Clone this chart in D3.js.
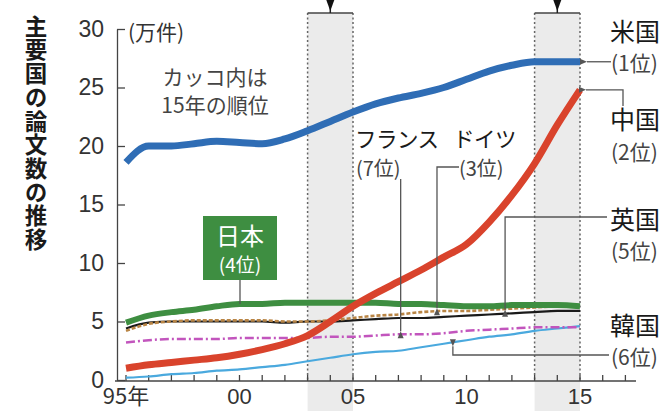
<!DOCTYPE html>
<html>
<head>
<meta charset="utf-8">
<script src="https://cdn.jsdelivr.net/npm/d3@7/dist/d3.min.js"></script>
<style>
  html, body { margin: 0; padding: 0; background: #fff; }
  svg { display: block; }
</style>
</head>
<body>
<div id="chart"></div>
<script>
// data (unit: 10,000 papers)
var years = d3.range(1995, 2016);
var usa     = [18.6, 20.0, 20.0, 20.2, 20.4, 20.3, 20.2, 20.6, 21.3, 22.1, 22.9, 23.6, 24.1, 24.5, 25.0, 25.7, 26.4, 26.9, 27.2, 27.2, 27.2];
var china   = [1.0, 1.3, 1.5, 1.7, 1.9, 2.2, 2.6, 3.1, 3.8, 5.0, 6.3, 7.4, 8.4, 9.4, 10.5, 11.6, 13.5, 15.8, 18.5, 21.8, 24.8];
var japan   = [4.9, 5.5, 5.8, 6.0, 6.3, 6.5, 6.5, 6.6, 6.6, 6.6, 6.6, 6.6, 6.5, 6.5, 6.4, 6.3, 6.3, 6.4, 6.4, 6.4, 6.3];
var germany = [4.2, 4.8, 5.0, 5.1, 5.1, 5.1, 5.1, 5.0, 5.0, 5.1, 5.3, 5.5, 5.6, 5.8, 5.9, 5.9, 6.0, 6.1, 6.2, 6.3, 6.4];
var uk      = [4.4, 4.9, 5.0, 5.0, 5.0, 5.0, 5.0, 4.9, 5.0, 5.0, 5.1, 5.2, 5.3, 5.3, 5.4, 5.5, 5.6, 5.7, 5.8, 5.9, 5.9];
var france  = [3.2, 3.4, 3.5, 3.5, 3.5, 3.6, 3.6, 3.6, 3.6, 3.7, 3.7, 3.8, 3.9, 3.9, 4.0, 4.2, 4.3, 4.4, 4.5, 4.5, 4.5];
var korea   = [0.2, 0.3, 0.5, 0.6, 0.8, 0.9, 1.1, 1.3, 1.6, 1.9, 2.2, 2.4, 2.5, 2.8, 3.1, 3.4, 3.7, 3.9, 4.2, 4.4, 4.6];

var yTicks = [0, 5, 10, 15, 20, 25, 30];
var xTickYears = d3.range(1995, 2018);
var xLabels = [[1995, "95年"], [2000, "00"], [2005, "05"], [2010, "10"], [2015, "15"]];
var bands = [[2003, 2005], [2013, 2015]];

var W = 671, H = 411;
var numFont = "'Liberation Sans', Arial, sans-serif";
var jpFont = "'Noto Sans CJK JP', 'Noto Sans', sans-serif";

var x = d3.scaleLinear().domain([1995, 2015]).range([126, 580]);
var y = d3.scaleLinear().domain([0, 30]).range([380, 29]);

function valueAt(arr, yr) {
  var i = Math.min(Math.floor(yr - 1995), arr.length - 2);
  var t = yr - 1995 - i;
  return arr[i] * (1 - t) + arr[i + 1] * t;
}

var svg = d3.select("#chart").append("svg")
  .attr("width", W)
  .attr("height", H)
  .attr("viewBox", "0 0 " + W + " " + H);

var defs = svg.append("defs");
defs.append("marker")
  .attr("id", "tip")
  .attr("markerWidth", 8)
  .attr("markerHeight", 8)
  .attr("markerUnits", "userSpaceOnUse")
  .attr("orient", "auto-start-reverse")
  .attr("refX", 0)
  .attr("refY", 3)
  .attr("viewBox", "0 0 8 6")
  .append("path")
  .attr("d", "M0,3 L7,0 L7,6 z")
  .attr("fill", "#555");

// shaded bands
bands.forEach(function(b) {
  var x0 = x(b[0]), x1 = x(b[1]), cx = (x0 + x1) / 2;
  svg.append("rect")
    .attr("x", x0).attr("y", 13)
    .attr("width", x1 - x0).attr("height", H - 13)
    .attr("fill", "#ebebeb");
  [x0, x1].forEach(function(xx) {
    svg.append("line")
      .attr("x1", xx).attr("x2", xx)
      .attr("y1", 13).attr("y2", 381)
      .attr("stroke", "#666")
      .attr("stroke-width", 1.5)
      .attr("stroke-dasharray", "2,2.5");
  });
  svg.append("line")
    .attr("x1", x0).attr("x2", x1)
    .attr("y1", 13).attr("y2", 13)
    .attr("stroke", "#444").attr("stroke-width", 1.3);
  svg.append("line")
    .attr("x1", cx).attr("x2", cx)
    .attr("y1", 0).attr("y2", 13)
    .attr("stroke", "#222").attr("stroke-width", 1.5);
  svg.append("path")
    .attr("d", "M" + (cx - 4) + ",0 L" + (cx + 4) + ",0 L" + cx + ",11 z")
    .attr("fill", "#111");
});

// title, vertical
svg.append("text")
  .attr("x", 36)
  .attr("y", 15)
  .attr("writing-mode", "vertical-rl")
  .attr("letter-spacing", "1.2")
  .attr("font-family", jpFont)
  .attr("font-weight", "bold")
  .attr("font-size", "22.5px")
  .attr("fill", "#1a1a1a")
  .text("主要国の論文数の推移");

// y axis
var yAxis = d3.axisLeft(y)
  .tickValues(yTicks)
  .tickSizeInner(-8)
  .tickSizeOuter(0)
  .tickPadding(13);
var gy = svg.append("g").attr("transform", "translate(117,0)").call(yAxis);
gy.select(".domain").attr("stroke", "#444").attr("stroke-width", 1.3);
gy.selectAll(".tick line").attr("stroke", "#444").attr("stroke-width", 1.3);
gy.selectAll(".tick text")
  .attr("font-family", numFont)
  .attr("font-size", "23px")
  .attr("fill", "#333");

// x axis
svg.append("line")
  .attr("x1", 115).attr("x2", 636)
  .attr("y1", 381).attr("y2", 381)
  .attr("stroke", "#444").attr("stroke-width", 1.3);
svg.append("g").selectAll("line")
  .data(xTickYears)
  .enter().append("line")
  .attr("x1", function(d) { return x(d); })
  .attr("x2", function(d) { return x(d); })
  .attr("y1", 381).attr("y2", 375)
  .attr("stroke", "#444").attr("stroke-width", 1.3);
svg.append("g").selectAll("text")
  .data(xLabels)
  .enter().append("text")
  .attr("x", function(d) { return x(d[0]); })
  .attr("y", 404)
  .attr("text-anchor", "middle")
  .attr("font-family", function(d) { return d[1].length > 2 ? jpFont : numFont; })
  .attr("font-size", "22px")
  .attr("fill", "#333")
  .text(function(d) { return d[1]; });

// unit + note
svg.append("text").attr("x", 128).attr("y", 40)
  .attr("font-family", jpFont).attr("font-size", "21px").attr("fill", "#333")
  .text("(万件)");
svg.append("text").attr("x", 215).attr("y", 85)
  .attr("text-anchor", "middle")
  .attr("font-family", jpFont).attr("font-size", "21px").attr("fill", "#444")
  .text("カッコ内は");
svg.append("text").attr("x", 215).attr("y", 113)
  .attr("text-anchor", "middle")
  .attr("font-family", jpFont).attr("font-size", "21px").attr("fill", "#444")
  .text("15年の順位");

// lines
var line = d3.line()
  .x(function(d, i) { return x(years[i]); })
  .y(function(d) { return y(d); })
  .curve(d3.curveMonotoneX);

var series = [
  { v: korea,   c: "#4aa9de", w: 2.2 },
  { v: france,  c: "#c255bd", w: 2.5, dash: "9,3,2,3" },
  { v: uk,      c: "#1a1a1a", w: 2.2 },
  { v: germany, c: "#b98545", w: 2.6, dash: "4,2" },
  { v: japan,   c: "#3e8e41", w: 6 },
  { v: china,   c: "#d9432c", w: 7 },
  { v: usa,     c: "#2f6db5", w: 7 }
];
svg.append("g").selectAll("path")
  .data(series)
  .enter().append("path")
  .attr("d", function(d) { return line(d.v); })
  .attr("fill", "none")
  .attr("stroke", function(d) { return d.c; })
  .attr("stroke-width", function(d) { return d.w; })
  .attr("stroke-dasharray", function(d) { return d.dash || null; })
  .attr("stroke-linejoin", "round");

// leaders
function leader(pts) {
  svg.append("path")
    .attr("d", d3.line()(pts))
    .attr("fill", "none")
    .attr("stroke", "#555")
    .attr("stroke-width", 1.3)
    .attr("marker-end", "url(#tip)");
}
function label(tx, ty, big, small, dy) {
  svg.append("text").attr("x", tx).attr("y", ty)
    .attr("font-family", jpFont).attr("font-size", "25px").attr("fill", "#1a1a1a")
    .text(big);
  svg.append("text").attr("x", tx + 1).attr("y", ty + dy)
    .attr("font-family", jpFont).attr("font-size", "21px").attr("fill", "#444")
    .text(small);
}

var usTip = [x(2015) + 7, y(usa[20])];
leader([[611, usTip[1]], usTip]);
label(610, 41, "米国", "(1位)", 30);

var cnTip = [x(2015) + 6, y(china[20])];
leader([[623, 106], [623, cnTip[1]], cnTip]);
label(610, 129, "中国", "(2位)", 31);

var ukYr = 2011.7;
leader([[607, 217], [x(ukYr), 217], [x(ukYr), y(valueAt(uk, ukYr)) - 4]]);
label(610, 229, "英国", "(5位)", 30);

var krYr = 2009.4;
leader([[609, 355], [x(krYr), 355], [x(krYr), y(valueAt(korea, krYr)) + 4]]);
label(610, 335, "韓国", "(6位)", 30);

var frYr = 2007.1;
leader([[x(frYr), 179], [x(frYr), y(valueAt(france, frYr)) - 3]]);
svg.append("text").attr("x", 355).attr("y", 147)
  .attr("font-family", jpFont).attr("font-size", "21.5px").attr("fill", "#1a1a1a")
  .attr("letter-spacing", "-0.5")
  .text("フランス");
svg.append("text").attr("x", 356).attr("y", 176)
  .attr("font-family", jpFont).attr("font-size", "20px").attr("fill", "#444")
  .text("(7位)");

var deYr = 2008.7;
leader([[459, 167], [x(deYr), 167], [x(deYr), y(valueAt(germany, deYr)) - 3]]);
svg.append("text").attr("x", 453).attr("y", 147)
  .attr("font-family", jpFont).attr("font-size", "21.5px").attr("fill", "#1a1a1a")
  .attr("letter-spacing", "-0.5")
  .text("ドイツ");
svg.append("text").attr("x", 459).attr("y", 176)
  .attr("font-family", jpFont).attr("font-size", "20px").attr("fill", "#444")
  .text("(3位)");

// Japan box
var jpX = 240;
svg.append("line")
  .attr("x1", jpX).attr("x2", jpX)
  .attr("y1", 280).attr("y2", y(valueAt(japan, x.invert(jpX))))
  .attr("stroke", "#555").attr("stroke-width", 1.3);
svg.append("rect")
  .attr("x", 203).attr("y", 216)
  .attr("width", 74).attr("height", 64)
  .attr("fill", "#3e8e41");
svg.append("text").attr("x", jpX).attr("y", 245)
  .attr("text-anchor", "middle")
  .attr("font-family", jpFont).attr("font-size", "24px").attr("fill", "#fff")
  .text("日本");
svg.append("text").attr("x", jpX).attr("y", 272)
  .attr("text-anchor", "middle")
  .attr("font-family", jpFont).attr("font-size", "19px").attr("fill", "#fff")
  .text("(4位)");
</script>
</body>
</html>
